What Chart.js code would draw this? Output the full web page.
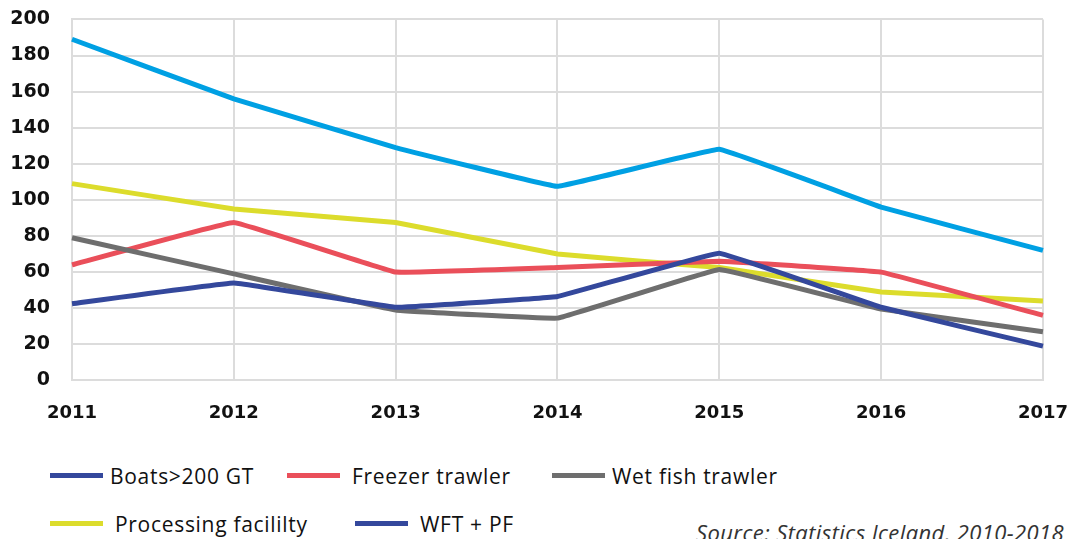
<!DOCTYPE html>
<html>
<head>
<meta charset="utf-8">
<script src="https://cdn.jsdelivr.net/npm/chart.js@4.4.0/dist/chart.umd.min.js"></script>
<style>
  html, body { margin: 0; padding: 0; background: #fff; }
  #wrap { position: relative; width: 1068px; height: 539px; overflow: hidden; }
  #chartBox { position: absolute; left: 0; top: -14px; width: 1090px; height: 460px; }
  .leg { position: absolute; font-family: "Open Sans", sans-serif; font-size: 21px; line-height: 24px; letter-spacing: 0.7px; color: #111; white-space: nowrap; }
  .leg i { position: absolute; left: 0; top: 9px; width: 53px; height: 5px; }
  .leg span { position: absolute; top: 0; }
  #source { position: absolute; left: 696px; top: 520px; font-family: "Open Sans", sans-serif; font-style: italic; font-size: 22px; line-height: 24px; letter-spacing: 0.4px; color: #333; white-space: nowrap; }
</style>
</head>
<body>
<div id="wrap">
  <div id="chartBox"><canvas id="chart"></canvas></div>
  <div id="legend"></div>
  <div id="source">Source: Statistics Iceland, 2010-2018</div>
</div>
<script>
// Data
const years = ['2011', '2012', '2013', '2014', '2015', '2016', '2017'];
const totalAll = [189, 156, 129, 107.5, 128, 96, 72];
const boats200 = [42.5, 54, 40.5, 46.5, 70.5, 40.5, 19];
const freezerTrawler = [64, 87.5, 60, 62.5, 66, 60, 36];
const wetFishTrawler = [79, 59, 39, 34.5, 61.5, 39.5, 27];
const processingFacility = [109, 95, 87.5, 70, 62.5, 49, 44];
const yTicks = [0, 20, 40, 60, 80, 100, 120, 140, 160, 180, 200];

const colors = {
  total: '#00a0e3',
  boats: '#34489c',
  freezer: '#ea4f5a',
  wet: '#6e6e6e',
  processing: '#dcdc2c'
};

function line(label, data, color) {
  return {
    label: label,
    data: data,
    borderColor: color,
    backgroundColor: color,
    borderWidth: 5,
    pointRadius: 0,
    tension: 0.05,
    fill: false
  };
}

const ctx = document.getElementById('chart').getContext('2d');
new Chart(ctx, {
  type: 'line',
  data: {
    labels: years,
    datasets: [
      line('Boats>200 GT', boats200, colors.boats),
      line('Wet fish trawler', wetFishTrawler, colors.wet),
      line('Freezer trawler', freezerTrawler, colors.freezer),
      line('Processing facililty', processingFacility, colors.processing),
      line('', totalAll, colors.total)
    ]
  },
  options: {
    responsive: true,
    maintainAspectRatio: false,
    animation: false,
    layout: { padding: 0 },
    plugins: {
      legend: { display: false },
      tooltip: { enabled: false }
    },
    scales: {
      x: {
        offset: false,
        grid: { color: '#dcdcdc', lineWidth: 2, drawTicks: false },
        border: { color: '#dcdcdc', width: 2 },
        ticks: {
          color: '#111',
          padding: 22,
          maxRotation: 0,
          font: { family: 'DejaVu Sans', weight: 'bold', size: 18 }
        }
      },
      y: {
        min: 0,
        max: 200,
        afterBuildTicks: (axis) => { axis.ticks = yTicks.map(v => ({ value: v })); },
        afterFit: (axis) => { axis.width = 72; },
        grid: { color: '#dcdcdc', lineWidth: 2, drawTicks: false },
        border: { color: '#dcdcdc', width: 2 },
        ticks: {
          color: '#111',
          padding: 22,
          font: { family: 'DejaVu Sans', weight: 'bold', size: 19 }
        }
      }
    }
  }
});

// HTML legend laid out like the original (two rows)
const legendItems = [
  { text: 'Boats>200 GT', color: colors.boats, x: 50, y: 464, gap: 60 },
  { text: 'Freezer trawler', color: colors.freezer, x: 287, y: 464, gap: 65 },
  { text: 'Wet fish trawler', color: colors.wet, x: 552, y: 464, gap: 60 },
  { text: 'Processing facililty', color: colors.processing, x: 50, y: 512, gap: 65 },
  { text: 'WFT + PF', color: colors.boats, x: 355, y: 512, gap: 65 }
];
const legendEl = document.getElementById('legend');
legendItems.forEach(item => {
  const d = document.createElement('div');
  d.className = 'leg';
  d.style.left = item.x + 'px';
  d.style.top = item.y + 'px';
  d.innerHTML = '<i style="background:' + item.color + '"></i><span style="left:' + item.gap + 'px">' + item.text + '</span>';
  legendEl.appendChild(d);
});
</script>
</body>
</html>
